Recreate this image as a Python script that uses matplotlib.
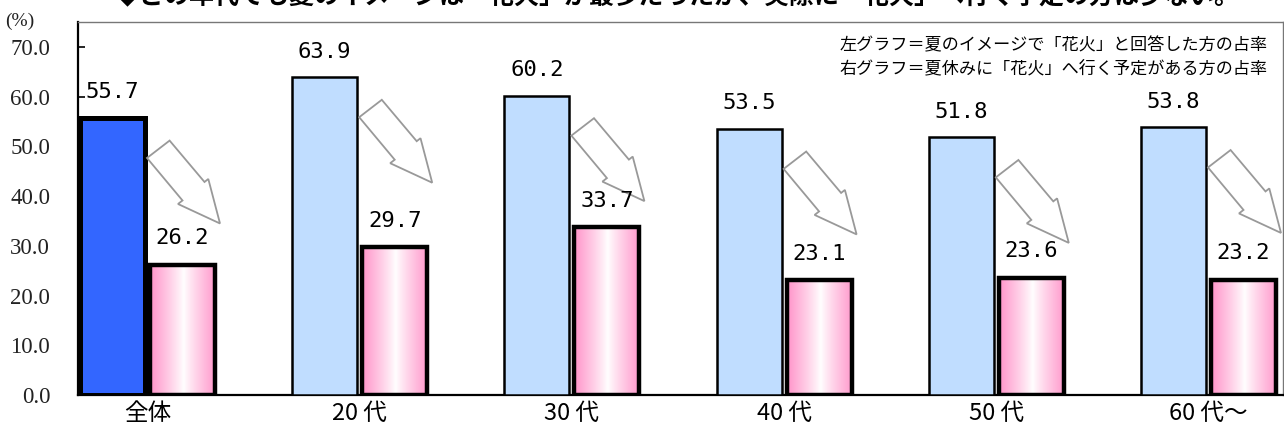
import numpy as np
import matplotlib
matplotlib.use("Agg")
import matplotlib.pyplot as plt
import matplotlib.transforms as mtransforms
from matplotlib.patches import Polygon

# ---- data ----
categories = ["全体", "20 代", "30 代", "40 代", "50 代", "60 代～"]
image_share = [55.7, 63.9, 60.2, 53.5, 51.8, 53.8]   # 夏のイメージで「花火」
plan_share = [26.2, 29.7, 33.7, 23.1, 23.6, 23.2]    # 「花火」へ行く予定
yticks = [0, 10, 20, 30, 40, 50, 60, 70]
legend_lines = ["左グラフ＝夏のイメージで「花火」と回答した方の占率",
                "右グラフ＝夏休みに「花火」へ行く予定がある方の占率"]
title = "◆どの年代でも夏のイメージは「花火」が最多だったが、実際に「花火」へ行く予定の方は少ない。"

W, H = 1284, 432
fig = plt.figure(figsize=(W / 100, H / 100), dpi=100)
ax = fig.add_axes([78 / W, (H - 395) / H, (1283 - 78) / W, (395 - 22) / H])

CJK = ["Noto Sans CJK JP", "DejaVu Sans"]
SERIF = ["Liberation Serif", "DejaVu Serif"]

unit = 212.2                      # px per category
bw = 65 / unit                    # bar width
off = 35 / unit                   # bar center offset
x = np.arange(len(categories))

ax.set_xlim((78 - 147.5) / unit, (1283 - 147.5) / unit)
ax.set_ylim(0, 75)

blue_dark = "#3366FF"
blue_light = "#C0DDFF"
pink = np.array([1.0, 0.60, 0.80])

for i in range(len(categories)):
    if i == 0:
        fc, lw = blue_dark, 3.6
    else:
        fc, lw = blue_light, 1.8
    ax.bar(x[i] - off, image_share[i], width=bw, color=fc, edgecolor="black",
           linewidth=lw, zorder=3)
    b = ax.bar(x[i] + off, plan_share[i], width=bw, color="none",
               edgecolor="black", linewidth=3.2, zorder=4)[0]
    t = np.linspace(0, 1, 64)
    w = np.clip(np.abs(t - 0.52) * 2.0, 0, 1) ** 0.9
    grad = (1 - w)[:, None] * np.ones(3) + w[:, None] * pink
    img = ax.imshow(grad[None, :, :], extent=[x[i] + off - bw / 2, x[i] + off + bw / 2,
                                             0, plan_share[i]],
                    aspect="auto", zorder=3, interpolation="bilinear")
    img.set_clip_path(b)

# value labels
for i in range(len(categories)):
    ax.annotate(f"{image_share[i]:.1f}", (x[i] - off, image_share[i]),
                xytext=(0, 18.5), textcoords="offset points", ha="center",
                va="center", fontsize=16, family=["DejaVu Sans Mono"], zorder=6)
    ax.annotate(f"{plan_share[i]:.1f}", (x[i] + off, plan_share[i]),
                xytext=(0, 19), textcoords="offset points", ha="center",
                va="center", fontsize=16, family=["DejaVu Sans Mono"], zorder=6)

# hollow arrows from left bar to right bar
shape = np.array([(0, 0), (22.6, -17.4), (57.5, 24), (61.3, 21), (73, 65.5),
                  (31, 46), (35.5, 42.5)])
shape = shape + np.array([2, 40])
for i in range(len(categories)):
    tr = (mtransforms.Affine2D().scale(0.01, -0.01) + fig.dpi_scale_trans +
          mtransforms.ScaledTranslation(x[i] - off + bw / 2, image_share[i],
                                        ax.transData))
    poly = Polygon(shape, closed=True, facecolor="white", edgecolor="#999999",
                   linewidth=1.3, transform=tr, zorder=5, clip_on=False)
    ax.add_patch(poly)

# axes styling
ax.set_yticks(yticks)
ax.set_yticklabels([f"{v:.1f}" for v in yticks], family=SERIF, fontsize=16.5,
                   color="#222222")
ax.tick_params(axis="y", direction="in", length=5, width=1.2, pad=20)
ax.set_xticks(x)
ax.set_xticklabels(categories, family=CJK, fontsize=17)
ax.tick_params(axis="x", length=0, pad=5)
for s in ["left", "bottom"]:
    ax.spines[s].set_color("black")
    ax.spines[s].set_linewidth(1.6)
for s in ["top", "right"]:
    ax.spines[s].set_color("#777777")
    ax.spines[s].set_linewidth(1.0)

# texts
fig.text(20 / W, 1 - 21 / H, "(%)", family=SERIF, fontsize=14, ha="center",
         va="center", color="#222222")
fig.text(1268 / W, 1 - 45 / H, legend_lines[0], family=CJK, fontsize=12.3,
         ha="right", va="center")
fig.text(1268 / W, 1 - 68 / H, legend_lines[1], family=CJK, fontsize=12.3,
         ha="right", va="center")
fig.text(677 / W, 1 - (-3) / H, title, family=CJK, fontsize=18, weight="bold",
         ha="center", va="center")

fig.savefig("out.png", dpi=100)
